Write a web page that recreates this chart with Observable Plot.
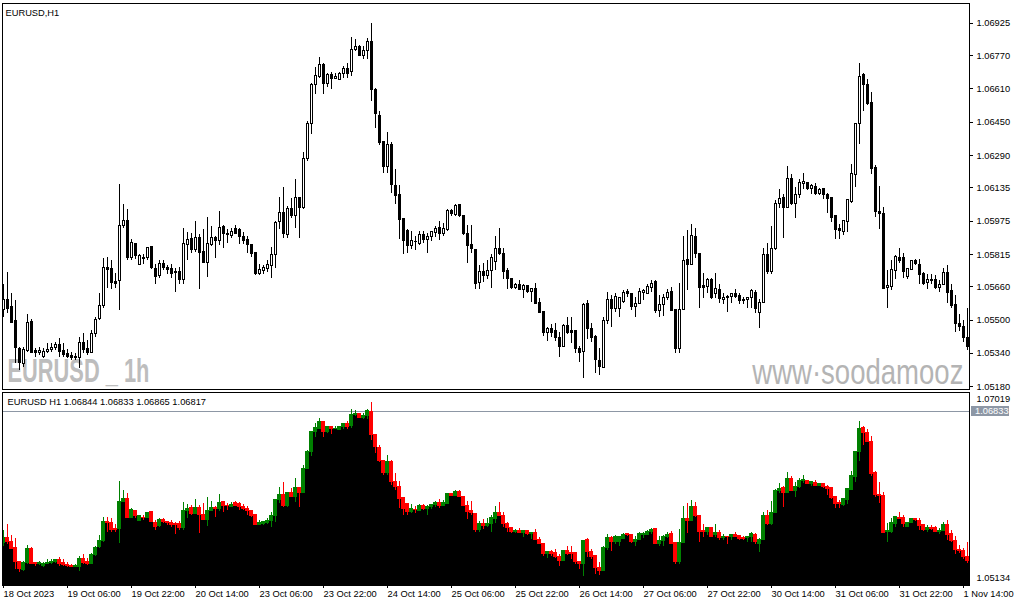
<!DOCTYPE html>
<html>
<head>
<meta charset="utf-8">
<script src="https://cdn.jsdelivr.net/npm/d3@7"></script>
<script src="https://cdn.jsdelivr.net/npm/@observablehq/plot@0.6"></script>
<style>
html, body { margin: 0; padding: 0; background: #fff; }
#chart { width: 1015px; height: 605px; overflow: hidden; }
#chart svg { display: block; }
</style>
</head>
<body>
<div id="chart"></div>
<script>
// ---- EURUSD H1 candles, 18 Oct 2023 14:00 -> 1 Nov 2023 ----
const open = [
  1.05549,1.05597,1.05563,1.05496,1.05362,1.05290,1.05352,1.05491,1.05352,1.05343, // 0
  1.05324,1.05348,1.05357,1.05367,1.05381,1.05352,1.05338,1.05329,1.05319,1.05319, // 10
  1.05391,1.05362,1.05343,1.05434,1.05506,1.05568,1.05750,1.05745,1.05683,1.05688, // 20
  1.05951,1.05975,1.05798,1.05865,1.05764,1.05798,1.05798,1.05851,1.05745,1.05712, // 30
  1.05769,1.05750,1.05745,1.05731,1.05731,1.05693,1.05860,1.05889,1.05836,1.05894, // 40
  1.05827,1.05774,1.05860,1.05894,1.05879,1.05946,1.05913,1.05903,1.05937,1.05932, // 50
  1.05899,1.05884,1.05860,1.05822,1.05721,1.05736,1.05745,1.05760,1.05812,1.05970, // 60
  1.06014,1.05908,1.06033,1.05999,1.06085,1.06037,1.06272,1.06440,1.06631,1.06665, // 70
  1.06727,1.06636,1.06679,1.06660,1.06655,1.06684,1.06708,1.06689,1.06799,1.06813, // 80
  1.06770,1.06794,1.06833,1.06607,1.06478,1.06354,1.06234,1.06339,1.06143,1.06100, // 90
  1.05985,1.05927,1.05855,1.05875,1.05865,1.05908,1.05884,1.05899,1.05918,1.05942, // 100
  1.05913,1.05932,1.06023,1.06004,1.06052,1.05999,1.05913,1.05860,1.05836,1.05678, // 110
  1.05731,1.05712,1.05736,1.05779,1.05841,1.05817,1.05736,1.05697,1.05654,1.05669, // 120
  1.05645,1.05664,1.05635,1.05649,1.05582,1.05539,1.05439,1.05458,1.05448,1.05415, // 130
  1.05372,1.05472,1.05448,1.05448,1.05362,1.05348,1.05578,1.05458,1.05420,1.05305, // 140
  1.05271,1.05496,1.05597,1.05554,1.05554,1.05587,1.05635,1.05626,1.05563,1.05578, // 150
  1.05630,1.05626,1.05654,1.05683,1.05544,1.05573,1.05606,1.05635,1.05549,1.05362, // 160
  1.05549,1.05788,1.05764,1.05899,1.05817,1.05664,1.05659,1.05693,1.05626,1.05645, // 170
  1.05597,1.05611,1.05611,1.05626,1.05616,1.05597,1.05597,1.05606,1.05630,1.05535, // 180
  1.05582,1.05812,1.05731,1.05841,1.06057,1.06085,1.06037,1.06176,1.06057,1.06100, // 190
  1.06152,1.06157,1.06128,1.06138,1.06105,1.06128,1.06100,1.06085,1.05999,1.05937, // 200
  1.05923,1.05970,1.06066,1.06196,1.06440,1.06675,1.06627,1.06540,1.06229,1.06018, // 210
  1.06009,1.05654,1.05659,1.05736,1.05798,1.05798,1.05707,1.05740,1.05784,1.05764, // 220
  1.05721,1.05678,1.05693,1.05693,1.05654,1.05669,1.05726,1.05640,1.05573,1.05482, // 230
  1.05467,1.05415                                                                  // 240
];
const high = [
  1.05673,1.05731,1.05626,1.05592,1.05367,1.05367,1.05525,1.05501,1.05362,1.05367,
  1.05362,1.05386,1.05386,1.05391,1.05410,1.05386,1.05357,1.05343,1.05338,1.05415,
  1.05434,1.05400,1.05448,1.05511,1.05626,1.05798,1.05803,1.05784,1.05726,1.06152,
  1.06057,1.06033,1.05889,1.05870,1.05817,1.05817,1.05851,1.05855,1.05769,1.05788,
  1.05788,1.05760,1.05769,1.05750,1.05755,1.05942,1.05923,1.05918,1.05975,1.05913,
  1.05937,1.05994,1.05951,1.05903,1.06023,1.05956,1.05937,1.05942,1.05956,1.05942,
  1.05923,1.05903,1.05865,1.05825,1.05769,1.05760,1.05784,1.05851,1.05975,1.06090,
  1.06138,1.06047,1.06085,1.06176,1.06088,1.06306,1.06454,1.06635,1.06713,1.06761,
  1.06732,1.06684,1.06689,1.06684,1.06689,1.06718,1.06732,1.06857,1.06847,1.06818,
  1.06813,1.06852,1.06925,1.06610,1.06502,1.06358,1.06402,1.06354,1.06224,1.06148,
  1.05990,1.05937,1.05927,1.05903,1.05927,1.05927,1.05918,1.05927,1.05951,1.05975,
  1.05966,1.06033,1.06033,1.06057,1.06057,1.06004,1.05956,1.05956,1.05841,1.05760,
  1.05774,1.05784,1.05817,1.05903,1.05942,1.05846,1.05750,1.05702,1.05678,1.05688,
  1.05669,1.05666,1.05654,1.05678,1.05602,1.05541,1.05467,1.05477,1.05482,1.05439,
  1.05477,1.05515,1.05511,1.05450,1.05372,1.05578,1.05592,1.05482,1.05424,1.05362,
  1.05515,1.05635,1.05616,1.05626,1.05610,1.05640,1.05645,1.05630,1.05611,1.05654,
  1.05649,1.05669,1.05688,1.05688,1.05616,1.05621,1.05649,1.05659,1.05552,1.05678,
  1.05903,1.05932,1.05961,1.05942,1.05820,1.05726,1.05702,1.05702,1.05726,1.05673,
  1.05630,1.05616,1.05630,1.05649,1.05626,1.05611,1.05611,1.05649,1.05640,1.05597,
  1.05846,1.05870,1.05951,1.06076,1.06128,1.06105,1.06239,1.06200,1.06138,1.06176,
  1.06205,1.06162,1.06152,1.06157,1.06133,1.06133,1.06109,1.06090,1.06002,1.05961,
  1.05980,1.06081,1.06248,1.06445,1.06732,1.06684,1.06655,1.06593,1.06243,1.06143,
  1.06042,1.05736,1.05788,1.05808,1.05846,1.05822,1.05750,1.05788,1.05793,1.05793,
  1.05731,1.05717,1.05717,1.05712,1.05688,1.05750,1.05764,1.05669,1.05616,1.05525,
  1.05496,1.05554
];
const low = [
  1.05511,1.05530,1.05482,1.05290,1.05257,1.05271,1.05343,1.05338,1.05319,1.05329,
  1.05314,1.05338,1.05343,1.05352,1.05319,1.05319,1.05314,1.05305,1.05305,1.05266,
  1.05338,1.05329,1.05338,1.05415,1.05496,1.05558,1.05654,1.05649,1.05654,1.05544,
  1.05942,1.05784,1.05784,1.05793,1.05760,1.05769,1.05784,1.05745,1.05673,1.05702,
  1.05740,1.05721,1.05702,1.05635,1.05673,1.05673,1.05788,1.05822,1.05827,1.05645,
  1.05774,1.05707,1.05855,1.05798,1.05860,1.05846,1.05870,1.05894,1.05913,1.05865,
  1.05865,1.05822,1.05803,1.05716,1.05716,1.05721,1.05731,1.05702,1.05750,1.05937,
  1.05894,1.05894,1.05990,1.05942,1.05894,1.06033,1.06263,1.06392,1.06584,1.06660,
  1.06584,1.06617,1.06607,1.06655,1.06651,1.06660,1.06660,1.06670,1.06789,1.06765,
  1.06751,1.06751,1.06550,1.06421,1.06339,1.06205,1.06205,1.06109,1.06057,1.05889,
  1.05817,1.05822,1.05841,1.05836,1.05860,1.05870,1.05822,1.05879,1.05899,1.05884,
  1.05903,1.05927,1.05999,1.05999,1.05995,1.05908,1.05774,1.05822,1.05649,1.05649,
  1.05683,1.05697,1.05654,1.05740,1.05808,1.05697,1.05649,1.05645,1.05645,1.05640,
  1.05602,1.05626,1.05587,1.05574,1.05530,1.05420,1.05396,1.05415,1.05396,1.05319,
  1.05367,1.05429,1.05386,1.05338,1.05295,1.05218,1.05405,1.05391,1.05242,1.05233,
  1.05268,1.05477,1.05467,1.05535,1.05515,1.05582,1.05611,1.05544,1.05511,1.05573,
  1.05592,1.05621,1.05635,1.05530,1.05511,1.05519,1.05592,1.05540,1.05338,1.05338,
  1.05544,1.05640,1.05760,1.05798,1.05558,1.05606,1.05626,1.05600,1.05602,1.05578,
  1.05573,1.05535,1.05578,1.05606,1.05573,1.05573,1.05558,1.05558,1.05530,1.05458,
  1.05580,1.05721,1.05721,1.05836,1.06037,1.05894,1.06035,1.06052,1.05990,1.06085,
  1.06128,1.06124,1.06105,1.06100,1.06100,1.06081,1.06014,1.05970,1.05889,1.05889,
  1.05908,1.05923,1.06061,1.06138,1.06344,1.06502,1.06530,1.06200,1.05994,1.05937,
  1.05645,1.05558,1.05640,1.05697,1.05774,1.05702,1.05697,1.05736,1.05760,1.05669,
  1.05664,1.05649,1.05669,1.05649,1.05635,1.05664,1.05578,1.05558,1.05439,1.05444,
  1.05391,1.05352
];
const close = [
  1.05597,1.05554,1.05487,1.05367,1.05295,1.05357,1.05487,1.05343,1.05343,1.05352,
  1.05348,1.05357,1.05367,1.05381,1.05348,1.05333,1.05324,1.05319,1.05324,1.05391,
  1.05357,1.05343,1.05434,1.05501,1.05568,1.05750,1.05740,1.05678,1.05673,1.05951,
  1.05975,1.05798,1.05870,1.05808,1.05808,1.05793,1.05846,1.05750,1.05707,1.05769,
  1.05750,1.05740,1.05721,1.05726,1.05693,1.05865,1.05884,1.05836,1.05894,1.05822,
  1.05774,1.05865,1.05894,1.05879,1.05942,1.05913,1.05908,1.05923,1.05913,1.05899,
  1.05879,1.05860,1.05817,1.05721,1.05740,1.05750,1.05764,1.05812,1.05966,1.06014,
  1.05913,1.06033,1.05999,1.06085,1.06037,1.06272,1.06440,1.06631,1.06670,1.06727,
  1.06636,1.06679,1.06660,1.06665,1.06684,1.06708,1.06684,1.06799,1.06809,1.06770,
  1.06794,1.06837,1.06607,1.06488,1.06349,1.06234,1.06339,1.06148,1.06095,1.05980,
  1.05879,1.05855,1.05879,1.05873,1.05908,1.05884,1.05899,1.05923,1.05937,1.05913,
  1.05937,1.06023,1.06009,1.06047,1.05999,1.05913,1.05855,1.05841,1.05673,1.05731,
  1.05712,1.05736,1.05798,1.05841,1.05817,1.05731,1.05697,1.05654,1.05669,1.05645,
  1.05664,1.05635,1.05649,1.05578,1.05535,1.05439,1.05458,1.05439,1.05415,1.05372,
  1.05472,1.05439,1.05439,1.05362,1.05343,1.05573,1.05458,1.05415,1.05309,1.05276,
  1.05496,1.05597,1.05554,1.05611,1.05606,1.05630,1.05626,1.05563,1.05578,1.05635,
  1.05640,1.05659,1.05673,1.05544,1.05573,1.05606,1.05630,1.05544,1.05362,1.05549,
  1.05784,1.05764,1.05903,1.05817,1.05654,1.05654,1.05693,1.05606,1.05649,1.05602,
  1.05606,1.05608,1.05626,1.05611,1.05592,1.05592,1.05606,1.05640,1.05554,1.05582,
  1.05812,1.05731,1.05841,1.06057,1.06081,1.06037,1.06176,1.06057,1.06100,1.06157,
  1.06162,1.06128,1.06143,1.06105,1.06124,1.06100,1.06081,1.05990,1.05932,1.05927,
  1.05975,1.06076,1.06200,1.06440,1.06665,1.06627,1.06536,1.06224,1.06018,1.06009,
  1.05649,1.05664,1.05740,1.05803,1.05784,1.05731,1.05745,1.05784,1.05769,1.05717,
  1.05673,1.05693,1.05688,1.05654,1.05669,1.05726,1.05630,1.05568,1.05482,1.05467,
  1.05415,1.05372
];

// Axis labels
const priceTicks = [1.06925, 1.06770, 1.06610, 1.06450, 1.06290, 1.06135,
                    1.05975, 1.05815, 1.05660, 1.05500, 1.05340, 1.05180];
const timeTickBars = [0, 16, 32, 48, 64, 80, 96, 112, 128, 144, 160, 176, 192, 208, 224, 240];
const timeTickLabels = ["18 Oct 2023", "19 Oct 06:00", "19 Oct 22:00", "20 Oct 14:00",
  "23 Oct 06:00", "23 Oct 22:00", "24 Oct 14:00", "25 Oct 06:00", "25 Oct 22:00",
  "26 Oct 14:00", "27 Oct 06:00", "27 Oct 22:00", "30 Oct 14:00", "31 Oct 06:00",
  "31 Oct 22:00", "1 Nov 14:00"];

const mainTitle = "EURUSD,H1";
const subTitle = "EURUSD H1 1.06844 1.06833 1.06865 1.06817";
const currentPrice = 1.06833;
const subMax = 1.07019, subMin = 1.05134;
const mainMin = 1.05180, mainMax = 1.06925;
const watermarkSymbol = "EURUSD _ 1h";
const watermarkSite = "www·soodamooz";

const bars = open.map((o, i) => ({
  i, open: o, high: high[i], low: low[i], close: close[i], up: close[i] >= o
}));

const FONT = "'Liberation Sans', Arial, sans-serif";
const N = bars.length;
const xCfg = {type: "linear", domain: [0, N - 1], range: [3, 3 + 4 * (N - 1)]};
const crisp = "crispEdges";

// ---------- main candlestick panel ----------
const topChart = Plot.plot({
  width: 1015, height: 390,
  marginLeft: 2, marginRight: 46, marginTop: 3, marginBottom: 1,
  style: {fontFamily: FONT, fontSize: "9.3px", color: "black", background: "white", overflow: "visible"},
  x: {...xCfg, axis: null},
  y: {domain: [mainMin, mainMax], range: [386.3, 22.8]},
  marks: [
    Plot.text([watermarkSymbol], {frameAnchor: "bottom-left", text: d => d, textAnchor: "start",
      lineAnchor: "bottom", dx: 5, dy: -8, fontSize: 34, fontWeight: "bold", fill: "#bdbdbd"}),
    Plot.text([watermarkSite], {frameAnchor: "bottom-left", text: d => d, textAnchor: "start",
      lineAnchor: "bottom", dx: 750, dy: -5.7, fontSize: 35, fill: "#b4b4b4"}),
    Plot.ruleX(bars, {x: "i", y1: "low", y2: "high", stroke: "black", shapeRendering: crisp, clip: true}),
    Plot.rect(bars, {x1: d => d.i - 0.25, x2: d => d.i + 0.25, y1: "open", y2: "close",
      fill: d => d.up ? "white" : "black", stroke: "black", strokeWidth: 1, shapeRendering: crisp, clip: true}),
    Plot.frame({stroke: "black", shapeRendering: crisp}),
    Plot.axisY(priceTicks, {anchor: "right", tickFormat: d => d.toFixed(5), tickSize: 3, tickPadding: 4,
      label: null, shapeRendering: crisp}),
    Plot.text([mainTitle], {frameAnchor: "top-left", text: d => d, textAnchor: "start",
      lineAnchor: "top", dx: 3, dy: 5.4, fill: "black"})
  ]
});

// ---------- lower panel ----------
const colorOf = d => d.up ? "#008000" : "#ff0000";
const bottomChart = Plot.plot({
  width: 1015, height: 215,
  marginLeft: 2, marginRight: 46, marginTop: 2, marginBottom: 20,
  style: {fontFamily: FONT, fontSize: "9.3px", color: "black", background: "white", overflow: "visible"},
  x: {...xCfg},
  y: {domain: [subMin, subMax], range: [195, 2], axis: null},
  marks: [
    Plot.ruleY([currentPrice], {stroke: "#8d97a5", shapeRendering: crisp}),
    Plot.rect(bars, {x1: d => d.i - 0.5, x2: d => d.i + 0.5, y1: subMin, y2: d => Math.min(d.open, d.close),
      fill: "black", shapeRendering: crisp, clip: true}),
    Plot.ruleX(bars, {x: "i", y1: "low", y2: "high", stroke: colorOf, shapeRendering: crisp, clip: true}),
    Plot.rect(bars, {x1: d => d.i - 0.375, x2: d => d.i + 0.375, y1: "open", y2: "close",
      fill: colorOf, stroke: colorOf, strokeWidth: 1, shapeRendering: crisp, clip: true}),
    Plot.frame({stroke: "black", shapeRendering: crisp}),
    Plot.axisX(timeTickBars, {anchor: "bottom", tickSize: 3, tickPadding: 2, textAnchor: "start",
      tickFormat: d => timeTickLabels[timeTickBars.indexOf(d)], label: null, shapeRendering: crisp}),
    Plot.text([subTitle], {frameAnchor: "top-left", text: d => d, textAnchor: "start",
      lineAnchor: "top", dx: 5, dy: 5.4, fill: "black"}),
    Plot.text([subMax], {y: d => d, frameAnchor: "right", text: d => d.toFixed(5), textAnchor: "start", dx: 7, dy: 7}),
    Plot.text([subMin], {y: d => d, frameAnchor: "right", text: d => d.toFixed(5), textAnchor: "start", dx: 7, dy: -7.3})
  ]
});

// current price label box on the right axis, placed with the plot's own y scale
{
  const yv = bottomChart.scale("y").apply(currentPrice);
  const xr = 1015 - 46;
  const g = d3.select(bottomChart).append("g");
  g.append("rect").attr("x", xr + 2).attr("y", Math.round(yv) - 5).attr("width", 38).attr("height", 10)
    .attr("fill", "#8d97a5").attr("shape-rendering", "crispEdges");
  g.append("text").attr("x", xr + 6).attr("y", yv).attr("dy", "0.34em").attr("fill", "white")
    .attr("text-anchor", "start").text(currentPrice.toFixed(5));
}

const root = document.getElementById("chart");
root.appendChild(topChart);
root.appendChild(bottomChart);

// condense the watermark texts horizontally (narrow display font look)
function condense(svg, label, targetWidth) {
  d3.select(svg).selectAll("text")
    .filter(function () { return this.textContent === label; })
    .each(function () {
      const bb = this.getBBox();
      if (!bb.width) return;
      const s = targetWidth / bb.width;
      const prev = this.getAttribute("transform") || "";
      this.setAttribute("transform",
        `${prev} translate(${bb.x},0) scale(${s},1) translate(${-bb.x},0)`.trim());
    });
}
condense(topChart, watermarkSymbol, 142);
condense(topChart, watermarkSite, 212);
</script>
</body>
</html>
